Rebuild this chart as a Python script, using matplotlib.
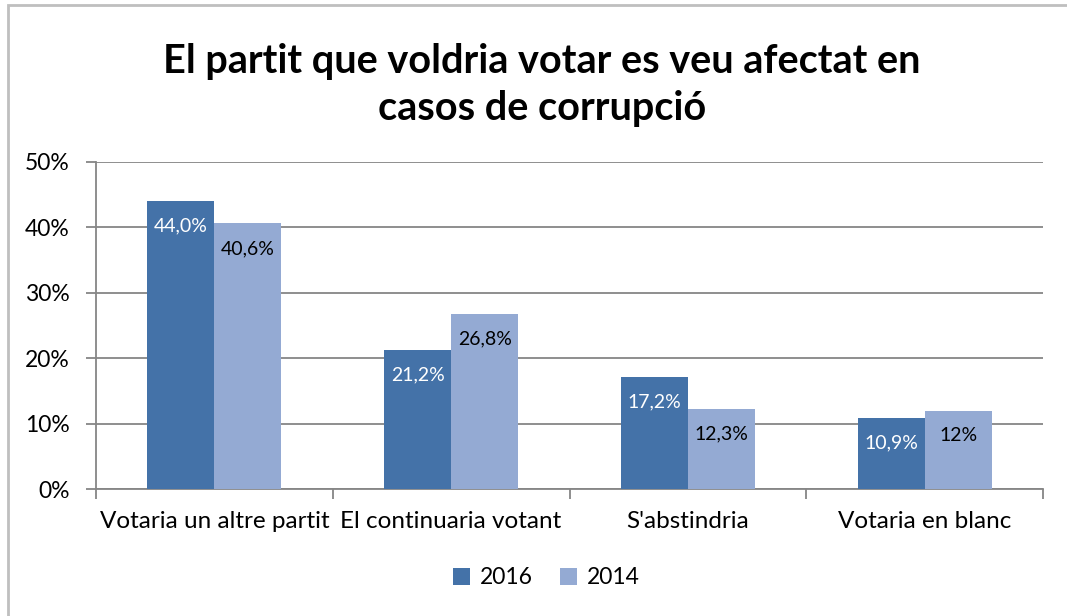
import matplotlib.pyplot as plt
import numpy as np
from matplotlib.patches import Rectangle

categories = ["Votaria un altre partit", "El continuaria votant", "S'abstindria", "Votaria en blanc"]
vals_2016 = [44.0, 21.2, 17.2, 10.9]
vals_2014 = [40.6, 26.8, 12.3, 12.0]
labels_2016 = ["44,0%", "21,2%", "17,2%", "10,9%"]
labels_2014 = ["40,6%", "26,8%", "12,3%", "12%"]

plt.rcParams['font.family'] = ['Lato', 'DejaVu Sans']

dark = '#4472A8'
light = '#94AAD3'
grid_c = '#868686'

fig = plt.figure(figsize=(10.67, 6.16), dpi=100)
ax = fig.add_axes([96/1067, 1 - 489/616, (1043 - 96)/1067, (489 - 162)/616])

# outer chart border (only left and top visible in the reference)
fig.patches.append(Rectangle((8/1067, -0.1), 1.2, 1 - 5/616 + 0.1, transform=fig.transFigure,
                             fill=False, edgecolor='#BFBFBF', linewidth=2))

x = np.arange(len(categories))
w = 0.283
b1 = ax.bar(x - w/2, vals_2016, w, color=dark, label='2016', zorder=3)
b2 = ax.bar(x + w/2, vals_2014, w, color=light, label='2014', zorder=3)

for bar, lab in zip(b1, labels_2016):
    ax.annotate(lab, (bar.get_x() + bar.get_width()/2, bar.get_height()),
                xytext=(0, -18), textcoords='offset points', ha='center', va='center',
                color='white', fontsize=14, zorder=4)
for bar, lab in zip(b2, labels_2014):
    ax.annotate(lab, (bar.get_x() + bar.get_width()/2, bar.get_height()),
                xytext=(0, -18), textcoords='offset points', ha='center', va='center',
                color='black', fontsize=14, zorder=4)

ax.set_xlim(-0.5, len(categories) - 0.5)
ax.set_ylim(0, 50)
ax.set_yticks(range(0, 51, 10))
ax.set_yticklabels([f"{v}%" for v in range(0, 51, 10)], fontsize=16.5)
ax.set_xticks(x)
ax.set_xticklabels(categories, fontsize=17.5)
ax.set_xticks(np.arange(-0.5, len(categories)), minor=True)
ax.tick_params(axis='x', which='major', length=0, pad=16)
ax.tick_params(axis='x', which='minor', length=7, color=grid_c, width=1.3)
ax.tick_params(axis='y', length=7, color=grid_c, width=1.3, pad=12)

ax.grid(axis='y', color=grid_c, linewidth=1.3, zorder=0)
for s in ['top', 'right']:
    ax.spines[s].set_visible(False)
for s in ['left', 'bottom']:
    ax.spines[s].set_color(grid_c)
    ax.spines[s].set_linewidth(1.3)

fig.text(0.508, 1 - 85/616, "El partit que voldria votar es veu afectat en\ncasos de corrupció",
         ha='center', va='center', fontsize=28.5, fontweight='bold', linespacing=1.32)

fig.legend(handles=[b1, b2], loc='center', bbox_to_anchor=(0.512, 1 - 578/616), ncol=2,
           frameon=False, fontsize=16.5, handlelength=0.75, handleheight=0.75,
           handletextpad=0.4, columnspacing=1.2)

fig.savefig('out.png', dpi=100)
